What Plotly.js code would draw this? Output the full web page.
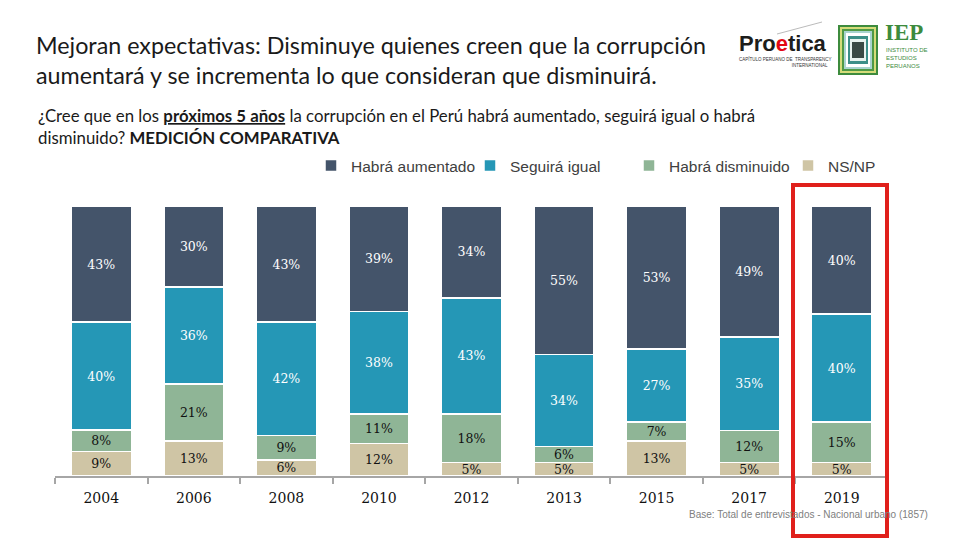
<!DOCTYPE html>
<html>
<head>
<meta charset="utf-8">
<script src="https://cdn.plot.ly/plotly-3.0.1.min.js"></script>
<style>html,body{margin:0;padding:0;background:#fff;}#chart{width:960px;height:540px;}</style>
</head>
<body>
<div id="chart"></div>
<script>
// ---- Data ----
const years = ['2004','2006','2008','2010','2012','2013','2015','2017','2019'];
const aumentado  = [43, 30, 43, 39, 34, 55, 53, 49, 40];
const igual      = [40, 36, 42, 38, 43, 34, 27, 35, 40];
const disminuido = [ 8, 21,  9, 11, 18,  6,  7, 12, 15];
const nsnp       = [ 9, 13,  6, 12,  5,  5, 13,  5,  5];
const seriesNames = ['NS/NP', 'Habrá disminuido', 'Seguirá igual', 'Habrá aumentado'];

// ---- Styling ----
const colors = ['#CFC5A5', '#8FB596', '#2597B6', '#44546A'];
const textColors = ['#111111', '#111111', '#ffffff', '#ffffff'];
const seriesValues = [nsnp, disminuido, igual, aumentado];

// plot area pixel geometry helpers (for decorations only)
const L = 55, R = 888, T = 206, B = 476;
const px = v => (v - L) / (R - L);
const py = v => (B - v) / (B - T);

const traces = seriesValues.map((vals, i) => ({
  type: 'bar',
  name: seriesNames[i],
  x: years,
  y: vals,
  text: vals.map(v => v + '%'),
  textposition: 'inside',
  insidetextanchor: 'middle',
  constraintext: 'none',
  textfont: {family: 'DejaVu Serif', size: 12.5, color: textColors[i]},
  marker: {color: colors[i], line: {color: '#ffffff', width: 1.5}},
  hoverinfo: 'skip'
}));

const shapes = [
  // highlight box around 2019
  {type: 'rect', xref: 'paper', yref: 'paper', x0: px(793), x1: px(887), y0: py(536), y1: py(185),
   line: {color: '#E0201B', width: 4}, fillcolor: 'rgba(0,0,0,0)'},
  // Proetica decorative stroke
  {type: 'line', xref: 'paper', yref: 'paper', x0: px(777), y0: py(34), x1: px(822), y1: py(22),
   line: {color: '#bbbbbb', width: 1}},
];
// IEP logo nested rectangles
const iepRects = [
  [838, 25, 878, 75, '#3d8b3d'],
  [840, 27, 876, 73, '#d5dc7a'],
  [842, 29, 874, 71, '#4f9a45'],
  [844, 31, 872, 69, '#a9d4cf'],
  [846, 33, 870, 67, '#ffffff'],
  [848, 36, 868, 64, '#3c8f88'],
  [850, 39, 866, 61, '#e8f3ee'],
  [852, 42, 864, 58, '#3a4a44']
];
iepRects.forEach(r => shapes.push({type: 'rect', xref: 'paper', yref: 'paper',
  x0: px(r[0]), y0: py(r[3]), x1: px(r[2]), y1: py(r[1]), line: {width: 0}, fillcolor: r[4]}));

const annotations = [
  {xref: 'paper', yref: 'paper', x: px(36), y: py(115), xanchor: 'left', yanchor: 'middle', showarrow: false,
   text: '¿Cree que en los <b><u>próximos 5 años</u></b> la corrupción en el Perú habrá aumentado, seguirá igual o habrá',
   font: {family: 'Lato', size: 16.8, color: '#1a1a1a'}},
  {xref: 'paper', yref: 'paper', x: px(36), y: py(137), xanchor: 'left', yanchor: 'middle', showarrow: false,
   text: 'disminuido? <b>MEDICIÓN COMPARATIVA</b>',
   font: {family: 'Lato', size: 16.8, color: '#1a1a1a'}},
  {xref: 'paper', yref: 'paper', x: px(687), y: py(514), xanchor: 'left', yanchor: 'middle', showarrow: false,
   text: 'Base: Total de entrevistados - Nacional urbano (1857)',
   font: {family: 'Liberation Sans', size: 10, color: '#808080'}},
  // Proetica logo text
  {xref: 'paper', yref: 'paper', x: px(737), y: py(44), xanchor: 'left', yanchor: 'middle', showarrow: false,
   text: '<b>Pro<span style="color:#E30613">e</span>tica</b>',
   font: {family: 'Liberation Sans', size: 22, color: '#1d1d1b'}},
  {xref: 'paper', yref: 'paper', x: px(737), y: py(62), xanchor: 'left', yanchor: 'middle', showarrow: false,
   text: 'CAPÍTULO PERUANO DE  TRANSPARENCY<br>                                       INTERNATIONAL',
   font: {family: 'Liberation Sans', size: 4.5, color: '#333333'}},
  // IEP logo text
  {xref: 'paper', yref: 'paper', x: px(883), y: py(33), xanchor: 'left', yanchor: 'middle', showarrow: false,
   text: '<b>IEP</b>', font: {family: 'Liberation Serif', size: 23, color: '#3d8b3d'}},
  {xref: 'paper', yref: 'paper', x: px(884), y: py(58), xanchor: 'left', yanchor: 'middle', showarrow: false,
   text: 'INSTITUTO DE<br>ESTUDIOS<br>PERUANOS', align: 'left',
   font: {family: 'Liberation Sans', size: 6, color: '#3d8b3d'}}
];

const layout = {
  width: 960, height: 540,
  margin: {l: L, r: 960 - R, t: T, b: 540 - B, pad: 0, autoexpand: false},
  paper_bgcolor: '#ffffff', plot_bgcolor: '#ffffff',
  barmode: 'stack', barnorm: 'percent', bargap: 0.35,
  title: {
    text: 'Mejoran expectativas: Disminuye quienes creen que la corrupción<br>aumentará y se incrementa lo que consideran que disminuirá.',
    xref: 'container', yref: 'container', x: 36 / 960, xanchor: 'left', y: 1 - 54 / 540, yanchor: 'top',
    font: {family: 'Lato', size: 23.3, color: '#1a1a1a'}
  },
  showlegend: true,
  legend: {
    orientation: 'h', traceorder: 'reversed',
    x: px(311), xanchor: 'left', y: py(166), yanchor: 'middle',
    entrywidth: 114, entrywidthmode: 'pixels',
    font: {family: 'Liberation Sans', size: 15.5, color: '#404040'},
    bgcolor: 'rgba(0,0,0,0)'
  },
  xaxis: {
    type: 'category', showline: true, linecolor: '#a6a6a6', linewidth: 2,
    ticks: 'outside', tickson: 'boundaries', ticklen: 6, tickcolor: '#a6a6a6', tickwidth: 2,
    showgrid: false, zeroline: false, ticklabelstandoff: 8,
    tickfont: {family: 'DejaVu Serif', size: 14, color: '#111111'}
  },
  yaxis: {range: [0, 100], visible: false, showgrid: false, zeroline: false},
  shapes: shapes,
  annotations: annotations,
  hovermode: false
};

Plotly.newPlot('chart', traces, layout, {displayModeBar: false, staticPlot: true});
</script>
</body>
</html>
